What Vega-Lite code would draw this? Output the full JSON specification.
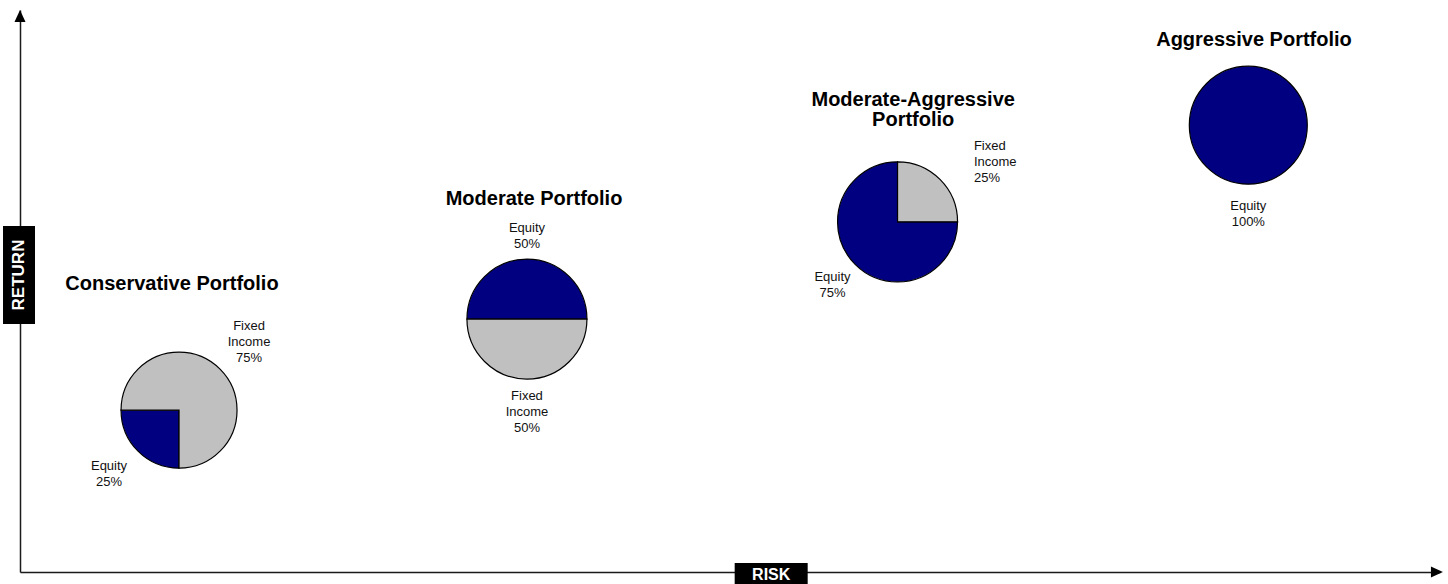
{
  "$schema": "https://vega.github.io/schema/vega-lite/v6.json",
  "width": 1420,
  "height": 562,
  "autosize": "none",
  "padding": {"left": 20, "top": 10, "right": 8, "bottom": 12},
  "background": "white",
  "config": {"view": {"stroke": null}, "font": "Liberation Sans"},
  "datasets": {
    "pies": [
      {"portfolio": "Conservative", "asset": "Equity", "pct": 25, "label": "Equity 25%", "riskLevel": 11.2, "expectedReturn": 28.8},
      {"portfolio": "Conservative", "asset": "Fixed Income", "pct": 75, "label": "Fixed Income 75%", "riskLevel": 11.2, "expectedReturn": 28.8},
      {"portfolio": "Moderate", "asset": "Equity", "pct": 50, "label": "Equity 50%", "riskLevel": 35.7, "expectedReturn": 45.0},
      {"portfolio": "Moderate", "asset": "Fixed Income", "pct": 50, "label": "Fixed Income 50%", "riskLevel": 35.7, "expectedReturn": 45.0},
      {"portfolio": "Moderate-Aggressive", "asset": "Equity", "pct": 75, "label": "Equity 75%", "riskLevel": 61.8, "expectedReturn": 62.3},
      {"portfolio": "Moderate-Aggressive", "asset": "Fixed Income", "pct": 25, "label": "Fixed Income 25%", "riskLevel": 61.8, "expectedReturn": 62.3},
      {"portfolio": "Aggressive", "asset": "Equity", "pct": 100, "label": "Equity 100%", "riskLevel": 86.5, "expectedReturn": 79.5}
    ],
    "titles": [
      {"title": "Conservative Portfolio", "riskLevel": 10.7, "expectedReturn": 51.2},
      {"title": "Moderate Portfolio", "riskLevel": 36.2, "expectedReturn": 66.4},
      {"title": "Moderate-Aggressive\nPortfolio", "riskLevel": 62.9, "expectedReturn": 84.0},
      {"title": "Aggressive Portfolio", "riskLevel": 86.9, "expectedReturn": 94.7}
    ]
  },
  "encoding": {
    "x": {"field": "riskLevel", "type": "quantitative", "scale": {"domain": [0, 100], "nice": false, "zero": false},
      "axis": {"title": null, "labels": false, "ticks": false, "grid": false, "domain": true, "domainColor": "#1a1a1a", "domainWidth": 1.5}},
    "y": {"field": "expectedReturn", "type": "quantitative", "scale": {"domain": [0, 100], "nice": false, "zero": false},
      "axis": {"title": null, "labels": false, "ticks": false, "grid": false, "domain": true, "domainColor": "#1a1a1a", "domainWidth": 1.5}}
  },
  "resolve": {"scale": {"theta": "independent"}},
  "layer": [
    {
      "data": {"values": [{"arrow": "return", "riskLevel": 0, "expectedReturn": 98.84}]},
      "mark": {"type": "point", "shape": "M0,-1L0.85,0.85L-0.85,0.85Z", "size": 169, "filled": true, "fill": "#000", "strokeWidth": 0, "opacity": 1}
    },
    {
      "data": {"values": [{"arrow": "risk", "riskLevel": 99.75, "expectedReturn": 0}]},
      "mark": {"type": "point", "shape": "M1,0L-0.85,-0.85L-0.85,0.85Z", "size": 169, "filled": true, "fill": "#000", "strokeWidth": 0, "opacity": 1}
    },
    {
      "data": {"values": [{"axisTitle": "RETURN", "riskLevel": -0.07, "expectedReturn": 52.85}]},
      "layer": [
        {"mark": {"type": "point", "shape": "M-0.3265,-1H0.3265V1H-0.3265Z", "size": 9604, "filled": true, "fill": "#000", "strokeWidth": 0, "opacity": 1}},
        {"mark": {"type": "text", "angle": 270, "fill": "#fff", "fontWeight": "bold", "fontSize": 17, "baseline": "middle", "align": "center"},
         "encoding": {"text": {"field": "axisTitle"}}}
      ]
    },
    {
      "data": {"values": [{"axisTitle": "RISK", "riskLevel": 52.9, "expectedReturn": -1.25}]},
      "layer": [
        {"mark": {"type": "point", "shape": "M-1,-0.4384H1V0.4384H-1Z", "size": 5329, "filled": true, "fill": "#000", "strokeWidth": 0, "opacity": 1}},
        {"mark": {"type": "text", "fill": "#fff", "fontWeight": "bold", "fontSize": 16, "baseline": "middle", "align": "center", "dy": -4},
         "encoding": {"text": {"field": "axisTitle"}}}
      ]
    },
    {
      "data": {"name": "pies"},
      "transform": [{"filter": {"field": "portfolio", "equal": "Conservative"}}],
      "encoding": {
        "theta": {"field": "pct", "type": "quantitative", "stack": true, "scale": {"domain": [0, 100], "range": [3.14159265, 9.42477796]}},
        "order": {"field": "asset", "sort": "ascending"}
      },
      "layer": [
        {"mark": {"type": "arc", "radius": 58, "stroke": "#000", "strokeWidth": 1.2},
         "encoding": {"color": {"field": "asset", "type": "nominal", "scale": {"domain": ["Equity", "Fixed Income"], "range": ["#000080", "#C0C0C0"]}, "legend": null}}},
        {"mark": {"type": "text", "radius": 99, "dy": -14, "fontSize": 13, "fill": "#111", "lineBreak": " ", "lineHeight": 16, "align": "center", "baseline": "middle"},
         "encoding": {"text": {"field": "label"}, "detail": {"field": "asset"}}}
      ]
    },
    {
      "data": {"name": "pies"},
      "transform": [{"filter": {"field": "portfolio", "equal": "Moderate"}}],
      "encoding": {
        "theta": {"field": "pct", "type": "quantitative", "stack": true, "scale": {"domain": [0, 100], "range": [4.71238898, 10.99557429]}},
        "order": {"field": "asset", "sort": "ascending"}
      },
      "layer": [
        {"mark": {"type": "arc", "radius": 60, "stroke": "#000", "strokeWidth": 1.2},
         "encoding": {"color": {"field": "asset", "type": "nominal", "scale": {"domain": ["Equity", "Fixed Income"], "range": ["#000080", "#C0C0C0"]}, "legend": null}}},
        {"mark": {"type": "text", "radius": 84, "dy": -7, "fontSize": 13, "fill": "#111", "lineBreak": " ", "lineHeight": 16, "align": "center", "baseline": "middle"},
         "encoding": {"text": {"field": "label"}, "detail": {"field": "asset"}}}
      ]
    },
    {
      "data": {"name": "pies"},
      "transform": [{"filter": {"field": "portfolio", "equal": "Moderate-Aggressive"}}],
      "encoding": {
        "theta": {"field": "pct", "type": "quantitative", "stack": true, "scale": {"domain": [0, 100], "range": [1.57079633, 7.85398163]}},
        "order": {"field": "asset", "sort": "ascending"}
      },
      "layer": [
        {"mark": {"type": "arc", "radius": 60, "stroke": "#000", "strokeWidth": 1.2},
         "encoding": {"color": {"field": "asset", "type": "nominal", "scale": {"domain": ["Equity", "Fixed Income"], "range": ["#000080", "#C0C0C0"]}, "legend": null}}},
        {"mark": {"type": "text", "radius": 92, "dy": -10, "fontSize": 13, "fill": "#111", "lineBreak": " ", "lineHeight": 16, "align": "center", "baseline": "middle"},
         "encoding": {"text": {"field": "label"}, "detail": {"field": "asset"},
           "opacity": {"condition": {"test": "datum.asset === 'Equity'", "value": 1}, "value": 0}}},
        {"mark": {"type": "text", "radius": 108, "dy": 0, "fontSize": 13, "fill": "#111", "lineBreak": " ", "lineHeight": 16, "align": "left", "baseline": "middle"},
         "encoding": {"text": {"field": "label"}, "detail": {"field": "asset"},
           "opacity": {"condition": {"test": "datum.asset === 'Fixed Income'", "value": 1}, "value": 0}}}
      ]
    },
    {
      "data": {"name": "pies"},
      "transform": [{"filter": {"field": "portfolio", "equal": "Aggressive"}}],
      "encoding": {
        "theta": {"field": "pct", "type": "quantitative", "stack": true, "scale": {"domain": [0, 100], "range": [0, 6.28318531]}},
        "order": {"field": "asset", "sort": "ascending"}
      },
      "layer": [
        {"mark": {"type": "arc", "radius": 59, "stroke": "#000", "strokeWidth": 1.2},
         "encoding": {"color": {"field": "asset", "type": "nominal", "scale": {"domain": ["Equity", "Fixed Income"], "range": ["#000080", "#C0C0C0"]}, "legend": null}}},
        {"mark": {"type": "text", "radius": 88, "dy": -7, "fontSize": 13, "fill": "#111", "lineBreak": " ", "lineHeight": 16, "align": "center", "baseline": "middle"},
         "encoding": {"text": {"field": "label"}, "detail": {"field": "asset"}}}
      ]
    },
    {
      "data": {"name": "titles"},
      "mark": {"type": "text", "fontSize": 20, "fontWeight": "bold", "fill": "#000", "lineBreak": "\n", "lineHeight": 20, "align": "center", "baseline": "middle"},
      "encoding": {"text": {"field": "title"}}
    }
  ]
}
